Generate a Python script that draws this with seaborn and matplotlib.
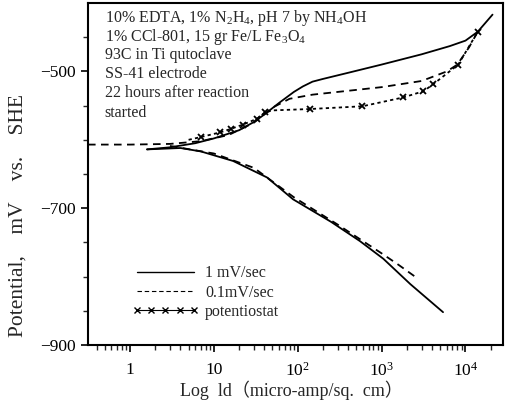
import matplotlib
matplotlib.use("Agg")
import matplotlib.pyplot as plt
import seaborn as sns
import pandas as pd
import numpy as np
from matplotlib.lines import Line2D
from matplotlib.ticker import FixedLocator, FixedFormatter, NullFormatter, LogLocator

# ---- data (current density in micro-amp/sq.cm, potential mV vs SHE) ----
solid_anodic_i = [1.6, 3, 6, 10, 20, 30, 40, 60, 90, 115, 150, 200, 400, 1000, 3000, 6500, 10000, 14000, 21000]
solid_anodic_v = [-614, -611, -605, -598, -586, -574, -563, -546, -530, -522, -515, -511, -502, -490, -475, -463, -455, -442, -417]
solid_cath_i = [1.6, 4, 7, 17, 43, 88, 250, 550, 1050, 2200, 5400]
solid_cath_v = [-614, -612, -617, -631, -655, -687, -720, -748, -774, -811, -852]

dash_anodic_i = [0.316, 1, 3, 7, 15, 30, 50, 80, 150, 300, 1000, 3000, 6000, 8000, 11000, 14000]
dash_anodic_v = [-607, -607, -606, -602, -593, -575, -553, -540, -534, -530, -523, -514, -500, -490, -465, -442]
dash_cath_i = [3, 10, 30, 90, 300, 1000, 1600, 2500]
dash_cath_v = [-609, -620, -641, -684, -724, -766, -783, -800]

pot_i = [5, 7, 12, 16, 22, 33, 41, 50, 140, 590, 1820, 3150, 4100, 8200, 14000]
pot_v = [-600, -596, -589, -584, -578, -569, -560, -557, -555, -551, -538, -529, -519, -490, -442]

legend_labels = ["1 mV/sec", "0.1mV/sec", "potentiostat"]
info_lines = [
    "10% EDTA, 1% N$_2$H$_4$, pH 7 by NH$_4$OH",
    "1% CCl-801, 15 gr Fe/L Fe$_3$O$_4$",
    "93C in Ti qutoclave",
    "SS-41 electrode",
    "22 hours after reaction",
    "started",
]

sns.set_theme(style="ticks")
plt.rcParams["font.family"] = ["Liberation Serif", "Noto Sans CJK SC", "DejaVu Sans"]
plt.rcParams["mathtext.fontset"] = "custom"
plt.rcParams["mathtext.rm"] = "Liberation Serif"
plt.rcParams["mathtext.it"] = "Liberation Serif:italic"

fig = plt.figure(figsize=(5.08, 4.03), dpi=100)
ax = fig.add_axes([88 / 508, 1 - 345 / 403, (503 - 88) / 508, (345 - 3) / 403])

lw = 1.3
def draw(xs, ys, **kw):
    df = pd.DataFrame({"i": xs, "v": ys})
    sns.lineplot(data=df, x="i", y="v", ax=ax, sort=False, estimator=None,
                 color="black", lw=lw, **kw)

draw(solid_anodic_i, solid_anodic_v)
draw(solid_cath_i, solid_cath_v)
draw(dash_anodic_i, dash_anodic_v, linestyle=(0, (4.2, 3.0)))
draw(dash_cath_i, dash_cath_v, linestyle=(0, (4.2, 3.0)))
draw(pot_i, pot_v, linestyle=(0, (1.8, 1.8)), marker="x", markersize=5,
     markeredgewidth=1.3, markeredgecolor="black",
     markevery=[1, 2, 3, 4, 5, 6, 8, 9, 10, 11, 12, 13, 14])

ax.set_xscale("log")
ax.set_xlim(0.316, 28000)
ax.set_ylim(-900, -400)

# y ticks
ax.yaxis.set_major_locator(FixedLocator([-500, -700, -900]))
ax.yaxis.set_major_formatter(FixedFormatter(["\u2212500", "\u2212700", "\u2212900"]))
ax.yaxis.set_minor_locator(FixedLocator([-450, -550, -600, -650, -750, -800, -850]))
# x ticks
ax.xaxis.set_major_locator(FixedLocator([1, 10, 100, 1000, 10000]))
ax.xaxis.set_major_formatter(FixedFormatter(["1", "10", "10$^2$", "10$^3$", "10$^4$"]))
ax.xaxis.set_minor_locator(LogLocator(base=10, subs=np.arange(2, 10)))
ax.xaxis.set_minor_formatter(NullFormatter())

ax.tick_params(axis="both", which="major", direction="out", length=5, width=1.2,
               labelsize=12.5, colors="black", top=False, right=False)
ax.tick_params(axis="x", which="major", pad=7)
ax.tick_params(axis="both", which="minor", direction="out", length=3.5, width=1.0,
               top=False, right=False)
for s in ax.spines.values():
    s.set_linewidth(1.5)
    s.set_color("black")

ax.set_xlabel("Log  ld\uff08micro-amp/sq.  cm\uff09", fontsize=13)
ax.xaxis.set_label_coords(0.49, -0.105)
ax.set_ylabel("Potential,    mV    vs.    SHE", fontsize=15.5)
ax.yaxis.set_label_coords(-0.145, 0.38)

y0 = 0.985
for k, line in enumerate(info_lines):
    ax.text(0.04, y0 - k * 0.0565, line, transform=ax.transAxes, fontsize=11.5,
            va="top", ha="left")

handles = [
    Line2D([], [], color="black", lw=1.0),
    Line2D([], [], color="black", lw=0.8, linestyle=(0, (4, 2.5))),
    Line2D([], [], color="black", lw=0.8, marker="x", markersize=5, markeredgewidth=1.0),
]
ax.legend(handles, legend_labels, loc="lower left", bbox_to_anchor=(0.09, 0.055),
          frameon=False, fontsize=11.5, handlelength=4.2, handletextpad=0.4,
          labelspacing=0.2, numpoints=5, borderaxespad=0)

fig.savefig("out.png", dpi=100)
